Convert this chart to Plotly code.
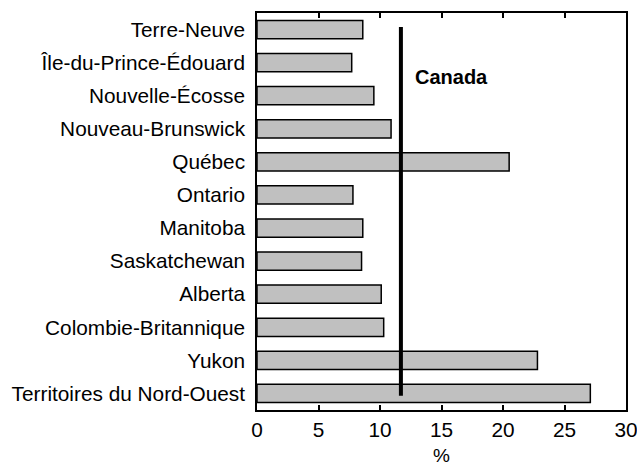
import plotly.graph_objects as go

provinces = [
    "Terre-Neuve", "Île-du-Prince-Édouard", "Nouvelle-Écosse", "Nouveau-Brunswick",
    "Québec", "Ontario", "Manitoba", "Saskatchewan", "Alberta",
    "Colombie-Britannique", "Yukon", "Territoires du Nord-Ouest",
]
pct = [8.6, 7.7, 9.5, 10.9, 20.5, 7.8, 8.6, 8.5, 10.1, 10.3, 22.8, 27.1]
canada = 11.7
x_ticks = [0, 5, 10, 15, 20, 25, 30]

font = "Liberation Sans, Arial, sans-serif"

fig = go.Figure(go.Bar(
    x=pct, y=provinces, orientation="h",
    marker=dict(color="#c0c0c0", line=dict(color="black", width=1.5)),
    width=0.55,
))

# ligne de la moyenne canadienne
fig.add_shape(
    type="line", xref="x", yref="y domain",
    x0=canada, x1=canada, y0=0.036, y1=0.965,
    line=dict(color="black", width=4),
)
fig.add_annotation(
    x=canada + 1, y=0.84, xref="x", yref="y domain",
    text="<b>Canada</b>", showarrow=False, xanchor="left", yanchor="middle",
    font=dict(size=20, color="black", family=font),
)

fig.update_xaxes(
    range=[0, 30], tickvals=x_ticks, ticks="inside", ticklen=5, tickwidth=2,
    tickcolor="black", showline=True, linecolor="black", linewidth=2,
    mirror="ticks", showgrid=False, zeroline=False, automargin=False,
    ticklabeloverflow="allow",
    title=dict(text="%", standoff=11, font=dict(size=19)),
)
fig.update_yaxes(
    autorange=False, range=[11.5, -0.5], showline=True, linecolor="black",
    linewidth=2, mirror=True, showgrid=False, ticks="", ticksuffix=" ",
    automargin=False,
)
fig.update_layout(
    width=637, height=466,
    margin=dict(l=257, r=11, t=13, b=56),
    plot_bgcolor="white", paper_bgcolor="white",
    font=dict(family=font, size=20.8, color="black"),
    showlegend=False,
)
# pas de marge de page autour du graphique
fig.write_html(
    "out.html",
    config={"displayModeBar": False},
    post_script="document.body.style.margin='0';",
)
